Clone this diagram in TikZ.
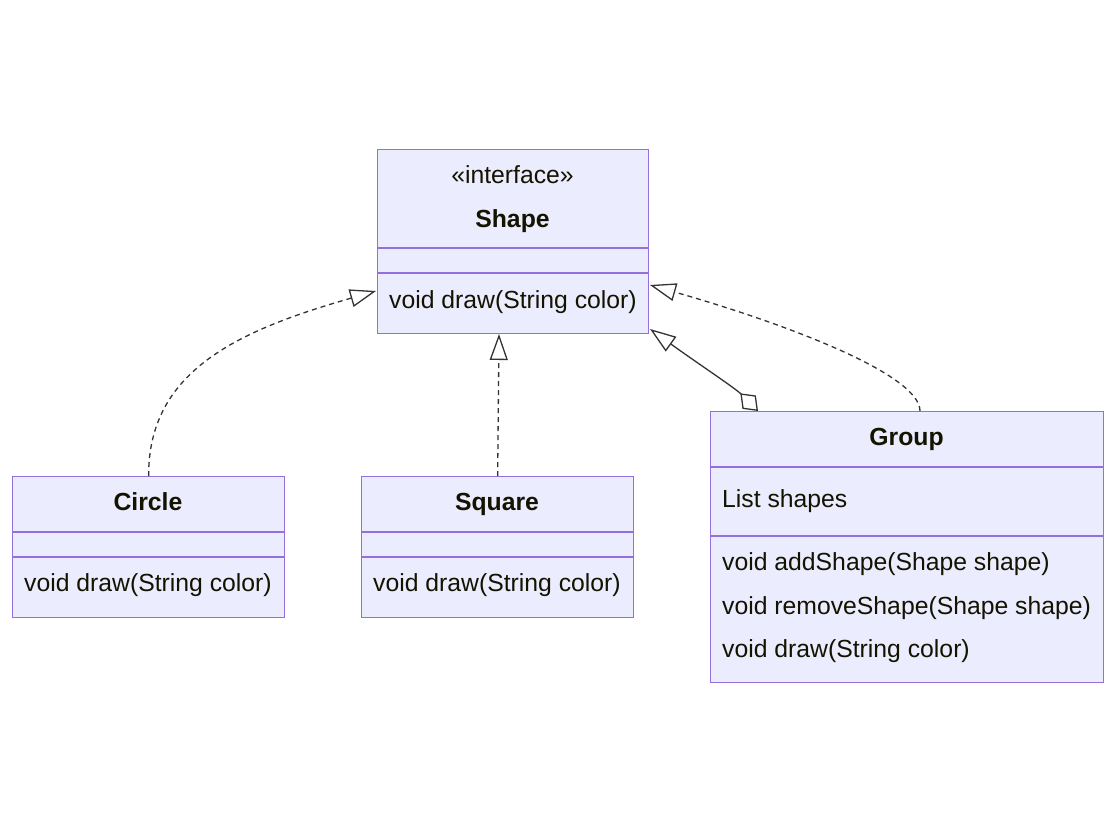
\documentclass[tikz,border=0pt]{standalone}
\usepackage{fontspec}
\setmainfont{Liberation Sans}
\usetikzlibrary{arrows.meta}
\definecolor{boxfill}{HTML}{ECECFF}
\definecolor{boxline}{HTML}{9370DB}
\definecolor{txt}{HTML}{131300}
\definecolor{edge}{HTML}{333333}
\begin{document}
\begin{tikzpicture}[x=1pt,y=-1pt,
  classbox/.style={draw=boxline,fill=boxfill,line width=1.3pt,rectangle,inner sep=0pt,anchor=north west},
  divider/.style={draw=boxline,line width=1.3pt},
  lbl/.style={inner sep=0pt,text=txt,font=\fontsize{24.75}{30}\selectfont},
  title/.style={lbl,font=\fontsize{24.75}{30}\selectfont\bfseries,anchor=base},
  member/.style={lbl,anchor=base west},
  plain/.style={lbl,anchor=base},
  realize/.style={draw=edge,line width=1.3pt,dash pattern=on 5pt off 4pt,
    -{Triangle[open,length=26pt,width=18pt,fill=white]}},
  assoc/.style={draw=edge,line width=1.3pt,
    {Diamond[open,length=25pt,width=19pt,fill=white]}-{Triangle[open,length=26pt,width=18pt,fill=white]}}
]
\useasboundingbox (0,0) rectangle (1116,832);

% Shape
\node[classbox,minimum width=271pt,minimum height=184pt] (shape) at (377,149) {};
\draw[divider] (377,248) -- (648,248);
\draw[divider] (377,273) -- (648,273);
\node[plain] (shapest) at (512.5,183) {«interface»};
\node[title] (shapet) at (512.5,227) {Shape};
\node[member] (shapem) at (389,308) {void draw(String color)};

% Circle
\node[classbox,minimum width=272pt,minimum height=141pt] (circle) at (12,476) {};
\draw[divider] (12,532) -- (284,532);
\draw[divider] (12,557) -- (284,557);
\node[title] (circlet) at (148,510) {Circle};
\node[member] (circlem) at (24,591) {void draw(String color)};

% Square
\node[classbox,minimum width=272pt,minimum height=141pt] (square) at (361,476) {};
\draw[divider] (361,532) -- (633,532);
\draw[divider] (361,557) -- (633,557);
\node[title] (squaret) at (497,510) {Square};
\node[member] (squarem) at (373,591) {void draw(String color)};

% Group
\node[classbox,minimum width=393pt,minimum height=271pt] (group) at (710,411) {};
\draw[divider] (710,467) -- (1103,467);
\draw[divider] (710,536) -- (1103,536);
\node[title] (groupt) at (906.5,445) {Group};
\node[member] (groupa) at (722,507) {List shapes};
\node[member] (groupm1) at (722,570) {void addShape(Shape shape)};
\node[member] (groupm2) at (722,614) {void removeShape(Shape shape)};
\node[member] (groupm3) at (722,657) {void draw(String color)};

% connector end points
\coordinate (circtip) at (376,291);
\coordinate (sqtip) at (499,334);
\coordinate (grptip) at (650,285);
\coordinate (grpstart) at (920,411);
\coordinate (aggtip) at (650,329);
\coordinate (aggstart) at (758,411);

% connectors
\draw[realize] (circle.north) .. controls (148,370) and (240,330) .. (circtip);
\draw[realize] (square.north) -- (sqtip);
\draw[realize] (grpstart) .. controls (920,375) and (790,325) .. (grptip);
\draw[assoc] (aggstart) .. controls (735,388) and (700,365) .. (aggtip);
\end{tikzpicture}
\end{document}
